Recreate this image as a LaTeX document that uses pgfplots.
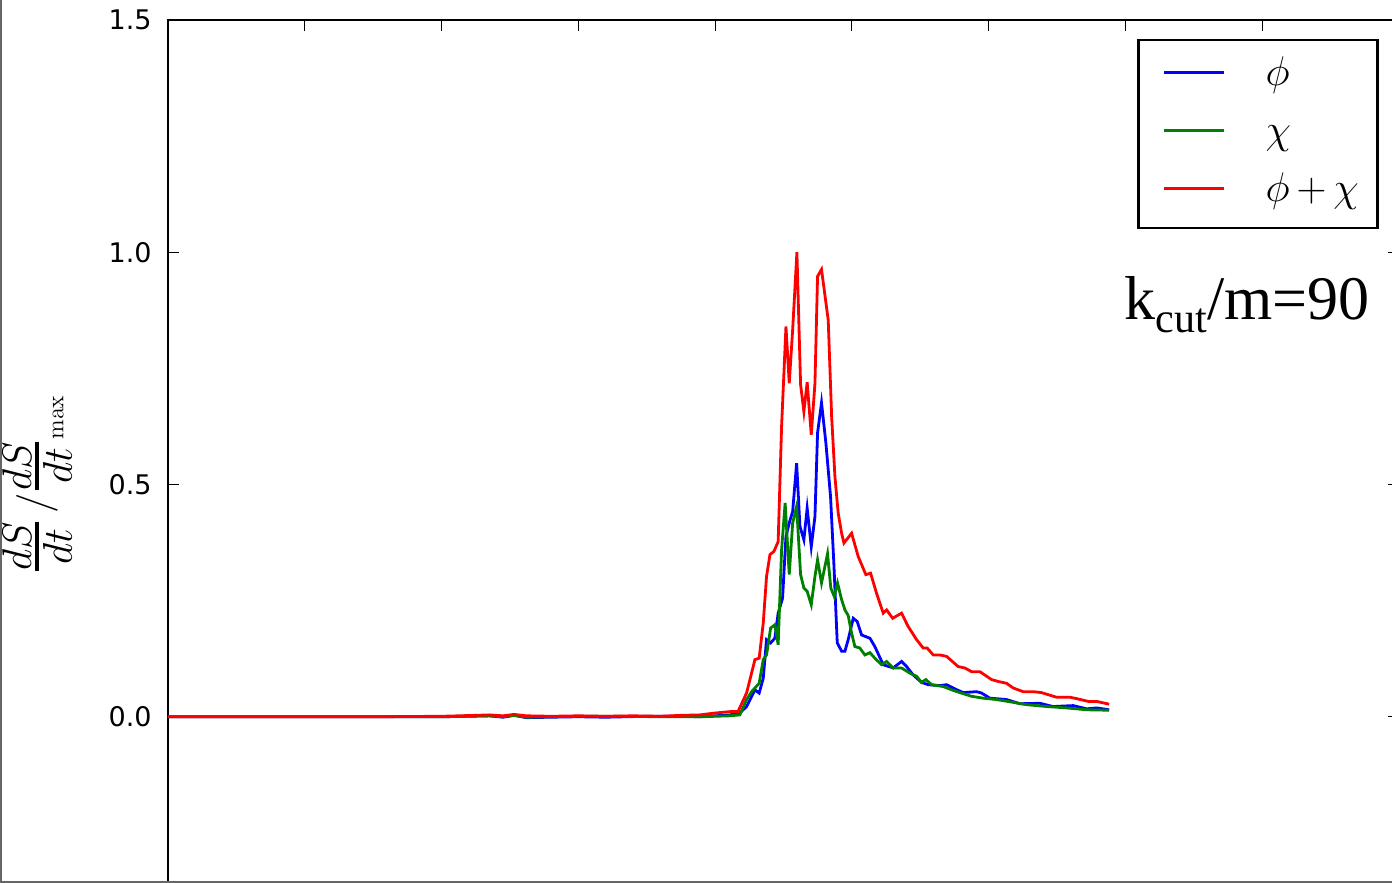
\documentclass[border=0pt]{standalone}
\usepackage{amsmath}
\usepackage[no-math]{fontspec}
\setmainfont{DejaVu Sans}
\newfontfamily\serifrm{Liberation Serif}
\usepackage{pgfplots}
\usepackage{pgfplotstable}
\pgfplotsset{compat=1.18}

% normalised entropy production rate, phi field
\pgfplotstableread{
t v
0 0
0.5 0
1.0 0
1.5 0
2.0 0
2.2 0.001
2.35 0.002
2.45 -0.001
2.53 0.003
2.62 -0.002
2.8 -0.001
3.0 0.000
3.2 -0.001
3.5 0.001
3.75 0.001
3.889 0.000
4.0 0.002
4.108 0.004
4.181 0.008
4.230 0.022
4.291 0.058
4.322 0.051
4.352 0.083
4.376 0.166
4.406 0.159
4.437 0.169
4.461 0.223
4.493 0.255
4.518 0.388
4.542 0.417
4.567 0.442
4.596 0.546
4.620 0.410
4.649 0.381
4.673 0.449
4.703 0.366
4.730 0.431
4.749 0.611
4.778 0.676
4.810 0.589
4.844 0.474
4.868 0.331
4.893 0.159
4.925 0.141
4.949 0.141
4.973 0.166
5.010 0.212
5.039 0.205
5.071 0.176
5.132 0.169
5.168 0.151
5.229 0.112
5.302 0.105
5.363 0.119
5.400 0.108
5.448 0.090
5.509 0.074
5.558 0.069
5.643 0.067
5.692 0.069
5.753 0.060
5.814 0.052
5.911 0.054
5.948 0.051
6.009 0.040
6.131 0.037
6.228 0.028
6.374 0.029
6.471 0.022
6.618 0.024
6.716 0.017
6.789 0.019
6.881 0.015
}\phidata

% chi field
\pgfplotstableread{
t v
0 0
0.5 0
1.0 0
1.5 0
2.0 0
2.2 0.001
2.35 0.002
2.45 0.000
2.53 0.003
2.62 -0.001
2.8 0.000
3.0 0.001
3.3 0.001
3.6 0.000
3.889 0.000
4.0 0.001
4.108 0.002
4.181 0.004
4.230 0.037
4.267 0.054
4.322 0.072
4.352 0.123
4.376 0.133
4.406 0.191
4.437 0.198
4.461 0.155
4.486 0.359
4.512 0.460
4.542 0.306
4.567 0.417
4.596 0.453
4.625 0.306
4.649 0.277
4.673 0.270
4.703 0.241
4.730 0.302
4.749 0.338
4.778 0.288
4.822 0.351
4.846 0.277
4.871 0.259
4.895 0.288
4.925 0.252
4.949 0.230
4.973 0.218
4.998 0.180
5.022 0.151
5.058 0.148
5.095 0.133
5.132 0.138
5.168 0.126
5.217 0.112
5.254 0.119
5.302 0.105
5.363 0.105
5.424 0.094
5.473 0.087
5.509 0.074
5.541 0.080
5.583 0.069
5.668 0.065
5.729 0.058
5.789 0.052
5.875 0.044
5.960 0.040
6.058 0.037
6.179 0.031
6.277 0.026
6.423 0.022
6.569 0.019
6.716 0.015
6.881 0.014
}\chidata

% sum phi + chi
\pgfplotstableread{
t v
0 0
0.5 0
1.0 0
1.5 0
2.0 0.001
2.25 0.003
2.35 0.004
2.45 0.002
2.53 0.005
2.62 0.002
2.8 0.001
3.0 0.002
3.2 0.001
3.4 0.002
3.6 0.001
3.75 0.003
3.889 0.004
4.0 0.008
4.108 0.011
4.167 0.011
4.230 0.051
4.291 0.123
4.322 0.126
4.352 0.202
4.376 0.302
4.401 0.349
4.430 0.356
4.461 0.377
4.486 0.625
4.518 0.840
4.542 0.718
4.567 0.833
4.598 1.000
4.625 0.715
4.649 0.657
4.673 0.720
4.703 0.607
4.730 0.718
4.749 0.948
4.778 0.963
4.827 0.854
4.852 0.646
4.876 0.517
4.900 0.438
4.925 0.395
4.942 0.374
4.998 0.395
5.046 0.345
5.102 0.306
5.137 0.309
5.180 0.266
5.229 0.223
5.254 0.230
5.298 0.212
5.363 0.223
5.412 0.194
5.473 0.166
5.521 0.148
5.550 0.148
5.595 0.133
5.643 0.133
5.692 0.130
5.777 0.108
5.826 0.105
5.875 0.097
5.936 0.097
6.021 0.080
6.069 0.076
6.131 0.072
6.179 0.062
6.252 0.054
6.325 0.054
6.386 0.052
6.496 0.042
6.594 0.042
6.643 0.039
6.728 0.033
6.789 0.033
6.881 0.027
}\sumdata

\definecolor{mplgreen}{rgb}{0,0.5,0}
% fraction with full-size parts set close to a heavy bar
\newcommand{\rfrac}[2]{\genfrac{}{}{2pt}{1}{\textstyle #1}{\textstyle #2}}

\begin{document}
\begin{tikzpicture}
\useasboundingbox (-84pt,33pt) rectangle (612pt,474.5pt);
\clip (-84pt,33pt) rectangle (612pt,474.5pt);
\begin{axis}[
  at={(0pt,0pt)}, anchor=south west,
  scale only axis, width=615.5pt, height=464.5pt,
  xmin=0, xmax=9, ymin=-0.5, ymax=1.5,
  xtick={0,...,9}, xticklabels={},
  ytick={0,0.5,1,1.5}, yticklabels={0.0,0.5,1.0,1.5},
  /pgf/number format/assume math mode=true,
  tick align=inside, major tick length=5.5pt,
  every tick/.style={black, line width=0.6pt},
  axis line style={black, line width=1.3pt},
  yticklabel style={font=\fontsize{13.5}{15}\selectfont, inner sep=0pt, xshift=-8pt},
  ylabel={\fontsize{20}{24}\selectfont
    $\rfrac{dS}{dt}\,/\rfrac{dS}{dt}\raisebox{-8pt}{\fontsize{12}{13}\selectfont$\mathrm{max}$}$},
  ylabel style={at={(axis description cs:-0.1064,0.5)}, anchor=center},
  legend image code/.code={\path (0pt,0pt); \draw[#1] (2.5pt,1.5pt) -- (32.5pt,1.5pt);},
  legend cell align=left,
  legend style={at={(rel axis cs:0.9838,0.9800)}, anchor=north east,
    draw=black, line width=1.3pt, fill=white,
    inner xsep=9.5pt, inner ysep=8pt,
    row sep=9pt, column sep=20pt,
    font=\fontsize{20}{24}\selectfont,
    nodes={inner sep=0pt, text height=15pt, text depth=5pt}},
]
\addplot[blue, line width=1.4pt] table[x=t, y=v] {\phidata};
\addlegendentry{$\phi$}
\addplot[mplgreen, line width=1.4pt] table[x=t, y=v] {\chidata};
\addlegendentry{$\chi$}
\addplot[red, line width=1.4pt] table[x=t, y=v] {\sumdata};
\addlegendentry{$\phi\,{+}\,\chi$}
\node[anchor=base east, inner sep=0pt, font=\serifrm\fontsize{31}{37}\selectfont]
  at (rel axis cs:0.9764,0.6771) {k\raisebox{-6.5pt}{\fontsize{21}{25}\selectfont cut}/m=90};
\end{axis}
\draw[black!60, line width=1pt] (-83.5pt,474.5pt) -- (-83.5pt,33.5pt) -- (612pt,33.5pt);
\end{tikzpicture}
\end{document}
